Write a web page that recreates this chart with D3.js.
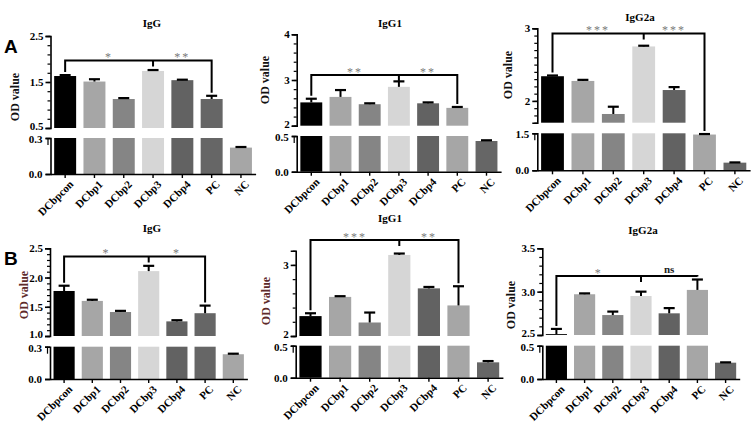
<!DOCTYPE html>
<html>
<head>
<meta charset="utf-8">
<script src="https://cdn.jsdelivr.net/npm/d3@7"></script>
<style>
  html, body { margin: 0; padding: 0; background: #fff; }
  svg text { font-family: "Liberation Serif", "Times New Roman", serif; font-weight: bold; }
</style>
</head>
<body>
<svg id="chart" width="753" height="423"></svg>
<script>
// ---------------- DATA ----------------
const categories = ["DCbpcon", "DCbp1", "DCbp2", "DCbp3", "DCbp4", "PC", "NC"];
const panelTitles = ["IgG", "IgG1", "IgG2a", "IgG", "IgG1", "IgG2a"];
const panelLetters = ["A", "", "", "B", "", ""];

// means and upper error-bar ends (mean + SD)
const aIgGMean   = [1.63, 1.51, 1.13, 1.74, 1.54, 1.13, 0.22];
const aIgGErr    = [1.65, 1.56, 1.15, 1.76, 1.55, 1.20, 0.225];
const aIgG1Mean  = [2.51, 2.63, 2.47, 2.85, 2.49, 2.39, 0.43];
const aIgG1Err   = [2.59, 2.78, 2.49, 2.97, 2.51, 2.41, 0.44];
const aIgG2aMean = [2.34, 2.275, 1.82, 2.75, 2.15, 1.45, 0.31];
const aIgG2aErr  = [2.35, 2.29, 1.92, 2.76, 2.19, 1.47, 0.32];
const bIgGMean   = [1.77, 1.60, 1.41, 2.11, 1.25, 1.39, 0.23];
const bIgGErr    = [1.86, 1.62, 1.43, 2.20, 1.27, 1.52, 0.235];
const bIgG1Mean  = [2.28, 2.55, 2.19, 3.14, 2.67, 2.43, 0.24];
const bIgG1Err   = [2.32, 2.56, 2.33, 3.16, 2.69, 2.70, 0.26];
const bIgG2aMean = [2.51, 2.97, 2.73, 2.95, 2.75, 3.02, 0.245];
const bIgG2aErr  = [2.57, 2.98, 2.77, 3.00, 2.81, 3.14, 0.25];

const means = [aIgGMean, aIgG1Mean, aIgG2aMean, bIgGMean, bIgG1Mean, bIgG2aMean];
const errs  = [aIgGErr, aIgG1Err, aIgG2aErr, bIgGErr, bIgG1Err, bIgG2aErr];

// broken y axis: upper and lower segments
const upperDomains = [[0.5, 2.5], [2, 4], [1.7, 3], [1.0, 2.5], [2, 3.2], [2.5, 3.5]];
const lowerDomains = [[0, 0.3], [0, 0.5], [0, 1.5], [0, 0.3], [0, 0.5], [0, 0.5]];
const upperTicks   = [[0.5, 1.5, 2.5], [2, 3, 4], [2, 3], [1.0, 1.5, 2.0, 2.5], [2, 3], [2.5, 3.0, 3.5]];
const lowerTicks   = [[0, 0.3], [0, 0.5], [0, 1.5], [0, 0.3], [0, 0.5], [0, 0.5]];
const minorStep    = [0.2, 0.2, 0.1, 0.1, 0.2, 0.1];
const tickDecimals = [1, 0, 0, 1, 0, 1];

// significance annotations
const bracketLevel = [1.97, 3.11, 2.93, 2.36, 3.35, 3.18];
const bracketIdx   = [0, 3, 5];
const sigLabels    = [["*", "**"], ["**", "**"], ["***", "***"], ["*", "*"], ["***", "**"], ["*", "ns"]];

// ---------------- STYLE / LAYOUT ----------------
const baseColors = ["#000000", "#a6a6a6", "#858585", "#d6d6d6", "#626262"];
const pcDark = [true, false, false, true, false, false];
const dark = "#666666", light = "#a6a6a6";
const ylabColors = ["#111", "#111", "#111", "#5e2a2a", "#5e2a2a", "#111"];

const layout = [
  {ax: 50.5, step: 29.3, uTop: 36,    uBot: 128,   lTop: 138,   lBot: 174,   tx: 152, ty: 23,  lx: 15,    ly: 97},
  {ax: 296.7, step: 29.2, uTop: 34.3, uBot: 125.7, lTop: 136,   lBot: 171.7, tx: 390, ty: 23,  lx: 265,   ly: 80},
  {ax: 537.3, step: 30.4, uTop: 28.3, uBot: 122.7, lTop: 133.3, lBot: 170.3, tx: 640, ty: 17,  lx: 508,   ly: 75},
  {ax: 50,   step: 28.2, uTop: 248.3, uBot: 336,   lTop: 346.7, lBot: 379,   tx: 152, ty: 228, lx: 24,    ly: 295},
  {ax: 295.7, step: 29.6, uTop: 250.7, uBot: 336,  lTop: 345.7, lBot: 377.7, tx: 390, ty: 218, lx: 265.7, ly: 301},
  {ax: 542.3, step: 28.2, uTop: 248.3, uBot: 335,  lTop: 345.7, lBot: 379,   tx: 643, ty: 230, lx: 511,   ly: 305}
];

const svg = d3.select("#chart");

layout.forEach((L, p) => {
  const g = svg.append("g");
  const vals = means[p], ev = errs[p];
  const x = d3.scaleBand().domain(categories)
    .range([L.ax, L.ax + 7 * L.step]).paddingInner(0.25).paddingOuter(0.125);
  const yU = d3.scaleLinear().domain(upperDomains[p]).range([L.uBot, L.uTop]);
  const yL = d3.scaleLinear().domain(lowerDomains[p]).range([L.lBot, L.lTop]);
  const colors = baseColors.concat(pcDark[p] ? [dark, light] : [light, dark]);
  const [uMin, uMax] = upperDomains[p];
  const [, lMax] = lowerDomains[p];
  const yOf = v => v > uMin ? yU(Math.min(v, uMax)) : yL(Math.min(v, lMax));

  // bars
  categories.forEach((c, i) => {
    const v = vals[i];
    g.append("rect").attr("x", x(c)).attr("width", x.bandwidth())
      .attr("y", yL(Math.min(v, lMax))).attr("height", yL(0) - yL(Math.min(v, lMax)))
      .attr("fill", colors[i]);
    if (v > uMin) {
      g.append("rect").attr("x", x(c)).attr("width", x.bandwidth())
        .attr("y", yU(Math.min(v, uMax))).attr("height", yU(uMin) - yU(Math.min(v, uMax)))
        .attr("fill", colors[i]);
    }
    // error bar (upper only)
    const cx = x(c) + x.bandwidth() / 2;
    const y0 = yOf(v), y1 = yOf(ev[i]);
    g.append("line").attr("x1", cx).attr("x2", cx).attr("y1", y0).attr("y2", y1)
      .attr("stroke", "#000").attr("stroke-width", 2);
    g.append("line").attr("x1", cx - 5.5).attr("x2", cx + 5.5).attr("y1", y1).attr("y2", y1)
      .attr("stroke", "#000").attr("stroke-width", 2.2);
  });

  const fmt = d3.format("." + tickDecimals[p] + "f");
  const fmtL = d3.format(".1f");

  // upper axis
  const minors = d3.range(uMin, uMax + 1e-9, minorStep[p]).map(v => +v.toFixed(3));
  g.append("g").attr("transform", `translate(${L.ax},0)`)
    .call(d3.axisLeft(yU).tickValues(minors).tickSize(3).tickSizeOuter(0).tickFormat(""))
    .call(a => a.select(".domain").remove())
    .call(a => a.selectAll("line").attr("stroke-width", 1.2));
  g.append("g").attr("transform", `translate(${L.ax},0)`)
    .call(d3.axisLeft(yU).tickValues(upperTicks[p]).tickSize(5).tickSizeOuter(5).tickFormat(fmt).tickPadding(2))
    .call(a => a.select(".domain").attr("stroke-width", 1.6))
    .call(a => a.selectAll("line").attr("stroke-width", 1.6))
    .call(a => a.selectAll("text").attr("font-size", 11).attr("fill", "#000")
      .attr("font-family", "Liberation Serif").attr("font-weight", "bold")
      .attr("dy", d => d === uMin ? "0.15em" : "0.32em"));

  // lower axis
  g.append("g").attr("transform", `translate(${L.ax},0)`)
    .call(d3.axisLeft(yL).tickValues(lowerTicks[p]).tickSize(5).tickSizeOuter(5).tickFormat(fmtL).tickPadding(3))
    .call(a => a.select(".domain").attr("stroke-width", 1.6))
    .call(a => a.selectAll("line").attr("stroke-width", 1.6))
    .call(a => a.selectAll("text").attr("font-size", 11).attr("fill", "#000")
      .attr("font-family", "Liberation Serif").attr("font-weight", "bold")
      .attr("dy", d => d === lMax ? "0.4em" : "0.32em"));
  // break mark (double line)
  g.append("line").attr("x1", L.ax - 2.5).attr("x2", L.ax - 2.5)
    .attr("y1", L.lTop).attr("y2", L.lTop + 7).attr("stroke", "#000").attr("stroke-width", 1.2);

  // x axis
  const xa = g.append("g").attr("transform", `translate(0,${L.lBot})`)
    .call(d3.axisBottom(x).tickSize(4).tickSizeOuter(0));
  xa.select(".domain").attr("stroke-width", 1.6);
  xa.selectAll("line").attr("stroke-width", 1.4);
  xa.selectAll("text").attr("font-size", 11).attr("fill", "#000")
    .attr("font-family", "Liberation Serif").attr("font-weight", "bold")
    .attr("text-anchor", "end").attr("dy", null).attr("y", 0)
    .attr("transform", "translate(9,11) rotate(-45)");

  // title
  g.append("text").attr("x", L.tx).attr("y", L.ty + 4).attr("text-anchor", "middle")
    .attr("font-size", 11).text(panelTitles[p]);
  // y label
  g.append("text").attr("transform", `translate(${L.lx + 4},${L.ly}) rotate(-90)`)
    .attr("text-anchor", "middle").attr("font-size", 12).attr("fill", ylabColors[p])
    .text("OD value");
  // panel letter
  if (panelLetters[p]) {
    g.append("text").attr("x", 4).attr("y", L.uTop + 17)
      .style("font-family", "Liberation Sans, Arial, sans-serif").style("font-weight", "bold")
      .attr("font-size", 19).text(panelLetters[p]);
  }

  // significance bracket
  const by = yU(bracketLevel[p]);
  const cxs = bracketIdx.map(i => x(categories[i]) + x.bandwidth() / 2);
  const leftEnd = yOf(ev[bracketIdx[0]]) - 3;
  const rightEnd = yOf(ev[bracketIdx[2]]) - 3;
  const path = d3.path();
  path.moveTo(cxs[0], leftEnd); path.lineTo(cxs[0], by); path.lineTo(cxs[2], by); path.lineTo(cxs[2], rightEnd);
  path.moveTo(cxs[1], by); path.lineTo(cxs[1], by + 6);
  g.append("path").attr("d", path.toString()).attr("fill", "none")
    .attr("stroke", "#000").attr("stroke-width", 2);
  [0, 1].forEach(k => {
    const lab = sigLabels[p][k];
    const mx = (cxs[k] + cxs[k + 1]) / 2;
    const isNs = lab === "ns";
    g.append("text").attr("x", mx).attr("y", isNs ? by - 3 : by + 1)
      .attr("text-anchor", "middle").attr("font-size", isNs ? 11 : 12)
      .attr("fill", isNs ? "#222" : "#7a7a7a").attr("letter-spacing", isNs ? 0 : 2)
      .style("font-weight", isNs ? "bold" : "normal")
      .text(lab);
  });
});
</script>
</body>
</html>
